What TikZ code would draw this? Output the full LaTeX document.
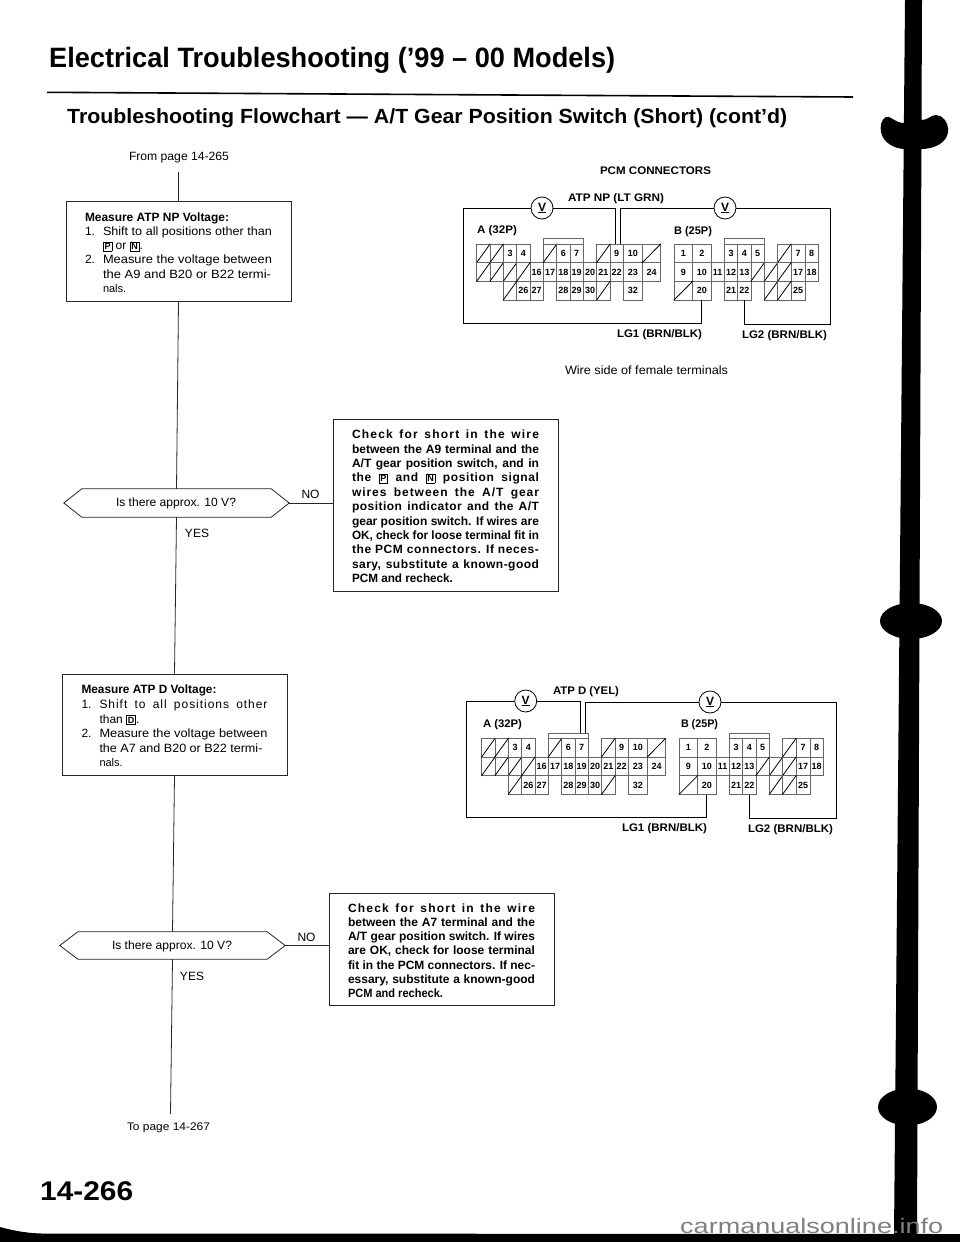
\documentclass[tikz,border=0pt]{standalone}
\usepackage{fontspec}
\usepackage{graphicx}
\setmainfont{Liberation Sans}
\newsavebox\fitbox
\newcommand\fitw[2]{\sbox\fitbox{#2}\pgfmathsetmacro\fitr{#1/\wd\fitbox}\scalebox{\fitr}[1]{\usebox\fitbox}}
% justified line of a box: spaces stretch when short, glyphs narrow when long
\newcommand\jl[2][187]{\sbox\fitbox{#2}\ifdim\wd\fitbox<#1pt\hbox to #1pt{#2}\else\hbox{\fitw{#1}{#2}}\fi}
\newcommand\ls[2]{{\addfontfeature{LetterSpace=#1}#2}}
\newcommand\fl[2]{\hbox{\fitw{#1}{#2}}}
\newcommand\nl[3]{\hbox{\hbox to 18pt{#1\hss}\fitw{#2}{#3}}}
\newcommand\stack[3]{\vbox{\kern3pt\baselineskip=#1pt\lineskiplimit=-100pt\relax #3\hrule height 0pt depth 0pt width #2pt}}
\newcommand\kb[1]{{\setlength\fboxsep{1.1pt}\setlength\fboxrule{0.6pt}\fbox{\bfseries\fontsize{9}{9}\selectfont\vphantom{P}#1}}}
\tikzset{
  line/.style={draw=black!85,line width=0.8pt},
  tbox/.style={line,fill=white,inner sep=0pt,font=\fontsize{12}{14}\selectfont},
  hexn/.style={inner sep=0pt,font=\fontsize{12}{14}\selectfont},
  lbl/.style={inner sep=0pt,font=\fontsize{12}{14}\selectfont},
  clbl/.style={inner sep=0pt,font=\bfseries\fontsize{11}{13}\selectfont},
  cell/.style={draw=black!60,line width=0.5pt,inner sep=0pt,font=\bfseries\fontsize{9}{9}\selectfont},
  hatch/.style={draw=black,line width=0.8pt},
  wire/.style={draw=black,line width=0.9pt},
  vm/.style={circle,draw=black,line width=0.8pt,fill=white,minimum size=22pt,inner sep=0pt,font=\bfseries\fontsize{12}{12}\selectfont},
}
\newcommand\hexshape[1]{\draw[line,fill=white] (#1.west) -- ([xshift=18pt]#1.north west) -- ([xshift=-18pt]#1.north east) -- (#1.east) -- ([xshift=-18pt]#1.south east) -- ([xshift=18pt]#1.south west) -- cycle;}
\newcommand\cellnode[5]{%
  \pgfmathsetmacro\cx{(#3+#4)/2}\pgfmathsetmacro\cw{#4-#3}\pgfmathsetmacro\cy{244+(#5-0.5)*18.67}%
  \node[cell,minimum width=\cw pt,minimum height=18.67pt] (#1) at (\cx,\cy) {#2};}
\newcommand\connectorcells{%
  \foreach \l/\a/\b/\r in {3/503.3/516.7/1,4/516.7/530/1,6/556.7/570/1,7/570/583.3/1,9/610/623.3/1,10/623.3/642.3/1,
    16/530/543.3/2,17/543.3/556.7/2,18/556.7/570/2,19/570/583.3/2,20/583.3/596.7/2,21/596.7/610/2,22/610/623.3/2,23/623.3/642.3/2,24/642.3/660.7/2,
    26/516.7/530/3,27/530/543.3/3,28/556.7/570/3,29/570/583.3/3,30/583.3/596.7/3,32/623.3/642.3/3}
    {\cellnode{\pfx a\l}{\l}{\a}{\b}{\r}}
  \foreach \i/\a/\b/\r in {1/476.7/490/1,2/490/503.3/1,3/543.3/556.7/1,4/596.7/610/1,5/642.3/660.7/1,
    6/476.7/490/2,7/490/503.3/2,8/503.3/516.7/2,9/516.7/530/2,10/503.3/516.7/3,11/596.7/610/3}
    {\cellnode{\pfx ah\i}{}{\a}{\b}{\r}\draw[hatch] (\pfx ah\i.south west) -- (\pfx ah\i.north east);}
  \foreach \l/\a/\b/\r in {1/674/692.67/1,2/692.67/711/1,3/724.33/737.67/1,4/737.67/751/1,5/751/764.33/1,7/791/805/1,8/805/818.3/1,
    9/674/692.67/2,10/692.67/711/2,11/711/724.33/2,12/724.33/737.67/2,13/737.67/751/2,17/791/805/2,18/805/818.3/2,
    20/692.67/711/3,21/724.33/737.67/3,22/737.67/751/3,25/791/805/3}
    {\cellnode{\pfx b\l}{\l}{\a}{\b}{\r}}
  \foreach \i/\a/\b/\r in {1/777.67/791/1,2/751/764.33/2,3/764.33/777.67/2,4/777.67/791/2,5/674/692.67/3,6/764.33/777.67/3,7/777.67/791/3}
    {\cellnode{\pfx bh\i}{}{\a}{\b}{\r}\draw[hatch] (\pfx bh\i.south west) -- (\pfx bh\i.north east);}
  \node[cell,minimum width=40pt,minimum height=5.3pt] (\pfx abump) at (563.3,241.35) {};
  \node[cell,minimum width=40pt,minimum height=5.3pt] (\pfx bbump) at (744.33,241.35) {};
}
\begin{document}
\begin{tikzpicture}[x=1pt,y=-1pt]
\useasboundingbox (0,0) rectangle (960,1242);
\fill[white] (0,0) rectangle (960,1242);
% binding marks
\fill[black] (905,0) -- (922,0) -- (917,1236) -- (894,1236) -- cycle;
\fill[black] (904,123) .. controls (895,123) and (890,115) .. (886,117) .. controls (881,119) and (880,127) .. (881,132) .. controls (883,143) and (895,149) .. (905,149) -- (922,149) .. controls (935,149) and (947,142) .. (948,132) .. controls (949,122) and (942,115) .. (936,115) .. controls (931,115) and (928,120) .. (922,120) -- cycle;
\fill[black] (911,621) ellipse [x radius=31,y radius=18];
\fill[black] (907.5,1107) ellipse [x radius=29.5,y radius=18.5];
\fill[black] (0,1227) .. controls (15,1231) and (30,1234) .. (50,1233.5) -- (960,1234) -- (960,1242) -- (0,1242) -- cycle;
% header
\node[inner sep=0pt,anchor=base west,font=\bfseries\fontsize{28}{30}\selectfont] (title) at (49,67.7) {\fitw{566}{Electrical Troubleshooting (’99 – 00 Models)}};
\draw[black,line width=1.6pt] (47,92.3) -- (853,97);
\node[inner sep=0pt,anchor=base west,font=\bfseries\fontsize{20.5}{22}\selectfont] (subtitle) at (67,123) {\fitw{720}{Troubleshooting Flowchart — A/T Gear Position Switch (Short) (cont’d)}};
% flow
\node[lbl] (from) at (179,158) {\fitw{100}{From page 14-265}};
\coordinate (start) at (178.5,172);
\node[tbox,minimum width=225pt,minimum height=100pt] (b1) at (178.5,251) {\stack{14.3}{187}{%
  \fl{144}{\bfseries Measure ATP NP Voltage:}
  \nl{1.}{169}{Shift to all positions other than}
  \hbox{\hbox to 18pt{\hss}\kb{P} or \kb{N}.}
  \nl{2.}{169}{Measure the voltage between}
  \nl{}{168}{the A9 and B20 or B22 termi-}
  \hbox{\hbox to 18pt{\hss}\fontsize{11}{14}\selectfont nals.}}};
\node[hexn,minimum width=225pt,minimum height=28pt] (h1) at (176.5,503) {};
\hexshape{h1}
\node[lbl] (h1t) at (176,503) {\fitw{120}{Is there approx. 10 V?}};
\node[tbox,font=\bfseries\fontsize{12}{14}\selectfont,minimum width=225pt,minimum height=172pt] (b2) at (445.5,505) {\stack{14.4}{187}{%
  \jl{\ls{10}{Check for short in the wire}}
  \jl{between the A9 terminal and the}
  \jl{A/T gear position switch, and in}
  \jl{\ls{5}{the \kb{P} and \kb{N} position signal}}
  \jl{\ls{8}{wires between the A/T gear}}
  \jl{\ls{4}{position indicator and the A/T}}
  \jl{gear position switch. If wires are}
  \jl{OK, check for loose terminal fit in}
  \jl{\ls{5}{the PCM connectors. If neces-}}
  \jl{\ls{4}{sary, substitute a known-good}}
  \fl{101}{PCM and recheck.}}};
\node[lbl] (no1) at (310.5,494) {NO};
\node[lbl] (yes1) at (197,533) {YES};
\node[tbox,minimum width=225pt,minimum height=101pt] (b3) at (174.5,724.5) {\stack{14.6}{186}{%
  \fl{135}{\bfseries Measure ATP D Voltage:}
  \hbox{\hbox to 18pt{1.\hss}\jl[168]{\ls{8}{Shift to all positions other}}}
  \hbox{\hbox to 18pt{\hss}than \kb{D}.}
  \nl{2.}{168}{Measure the voltage between}
  \nl{}{163}{the A7 and B20 or B22 termi-}
  \hbox{\hbox to 18pt{\hss}\fontsize{11}{14}\selectfont nals.}}};
\node[hexn,minimum width=225pt,minimum height=27pt] (h2) at (172.5,945.5) {};
\hexshape{h2}
\node[lbl] (h2t) at (172,946) {\fitw{120}{Is there approx. 10 V?}};
\node[tbox,font=\bfseries\fontsize{12}{14}\selectfont,minimum width=225pt,minimum height=112pt] (b4) at (441.5,949) {\stack{14.2}{187}{%
  \jl{\ls{10}{Check for short in the wire}}
  \jl{between the A7 terminal and the}
  \jl{A/T gear position switch. If wires}
  \jl{are OK, check for loose terminal}
  \jl{fit in the PCM connectors. If nec-}
  \jl{essary, substitute a known-good}
  \fl{95}{PCM and recheck.}}};
\node[lbl] (no2) at (306.5,937) {NO};
\node[lbl] (yes2) at (192,976) {YES};
\coordinate (end) at (170.5,1114);
\node[lbl,font=\fontsize{11}{13}\selectfont] (to) at (168.5,1128) {\fitw{83}{To page 14-267}};
\draw[line] (start) -- (b1.north);
\draw[line] (b1.south) -- (h1.north);
\draw[line] (h1.south) -- (b3.north);
\draw[line] (b3.south) -- (h2.north);
\draw[line] (h2.south) -- (end);
\draw[line] (h1.east) -- (h1.east -| b2.west);
\draw[line] (h2.east) -- (h2.east -| b4.west);
% upper connectors
\node[clbl] (pcm) at (655.5,171) {\fitw{111}{PCM CONNECTORS}};
\def\pfx{p}
\connectorcells
\node[clbl] (patp) at (616,199) {\fitw{96}{ATP NP (LT GRN)}};
\node[clbl] (pA) at (497,231) {\fitw{40}{A (32P)}};
\node[clbl] (pB) at (693,232) {\fitw{38}{B (25P)}};
\node[clbl] (plg1) at (659.5,335) {\fitw{85}{LG1 (BRN/BLK)}};
\node[clbl] (plg2) at (784.5,336) {\fitw{85}{LG2 (BRN/BLK)}};
\node[lbl] (wside) at (646.5,370) {\fitw{163}{Wire side of female terminals}};
\node[vm] (pvL) at (542,208) {\underline{V}};
\node[vm] (pvR) at (725,208) {\underline{V}};
\coordinate (pcL) at (463,323);
\coordinate (pcR) at (830.5,324);
\draw[wire] (pvL.west) -| (pcL) -| (pb20.south);
\draw[wire] (pvL.east) -| ([xshift=-1.7pt]pa9.north);
\draw[wire] (pvR.west) -| ([xshift=3.3pt]pa9.north);
\draw[wire] (pvR.east) -| (pcR) -| (pb22.south);
% lower connectors
\begin{scope}[shift={(5,494.3)}]
\def\pfx{q}
\connectorcells
\end{scope}
\node[clbl] (qatp) at (586,692) {\fitw{66}{ATP D (YEL)}};
\node[clbl] (qA) at (502.5,725) {\fitw{39}{A (32P)}};
\node[clbl] (qB) at (699.5,725) {\fitw{37}{B (25P)}};
\node[clbl] (qlg1) at (664.5,829) {\fitw{85}{LG1 (BRN/BLK)}};
\node[clbl] (qlg2) at (790.5,830) {\fitw{85}{LG2 (BRN/BLK)}};
\node[vm] (qvL) at (525.7,701) {\underline{V}};
\node[vm] (qvR) at (710,702) {\underline{V}};
\coordinate (qcL) at (466.7,817);
\coordinate (qcR) at (836.3,818);
\coordinate (qw1) at ([xshift=-1.7pt]qa7.north |- qabump.north);
\coordinate (qw2) at ([xshift=3.3pt]qa7.north |- qabump.north);
\draw[wire] (qvL.west) -| (qcL) -| (qb20.south);
\draw[wire] (qvL.east) -| (qw1);
\draw[wire] (qvR.west) -| (qw2);
\draw[wire] (qvR.east) -| (qcR) -| (qb22.south);
% footer
\node[inner sep=0pt,anchor=base west,font=\bfseries\fontsize{27}{30}\selectfont] (pageno) at (40,1200) {\fitw{93}{14-266}};
\node[inner sep=0pt,anchor=base west,text=black!50,font=\fontsize{21}{24}\selectfont] (wm) at (680,1233) {\fitw{263}{carmanualsonline.info}};
\end{tikzpicture}
\end{document}
